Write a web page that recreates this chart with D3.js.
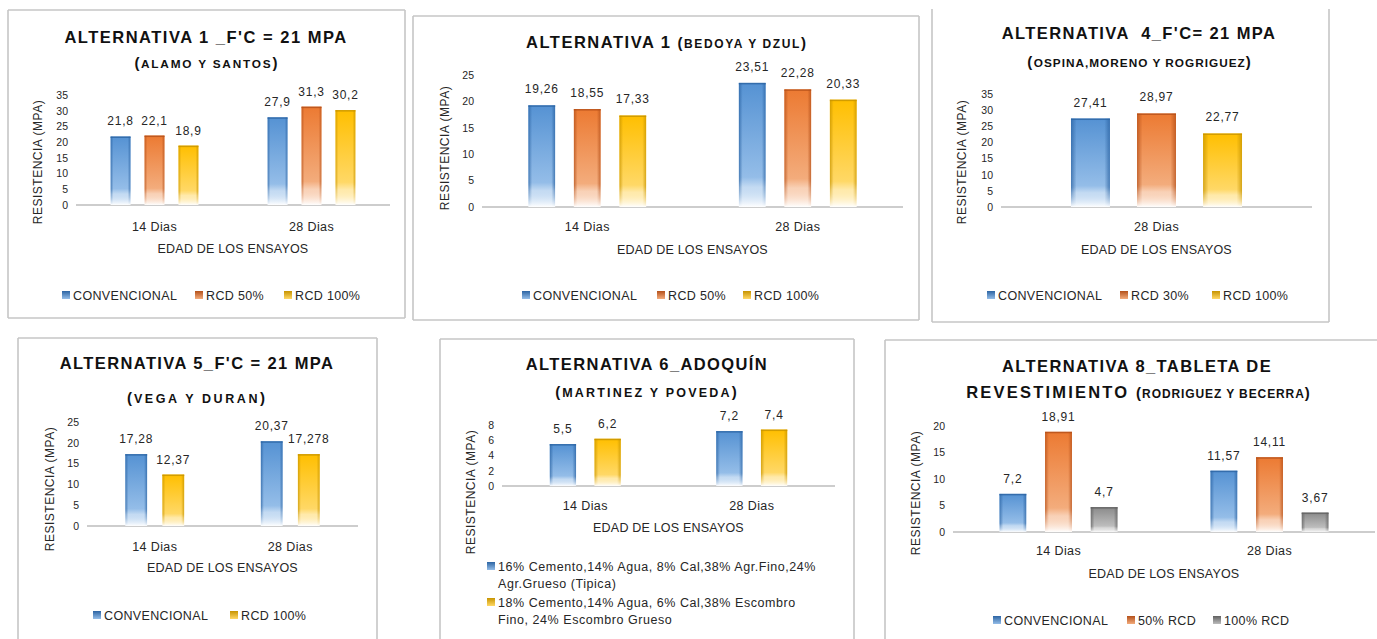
<!DOCTYPE html>
<html>
<head>
<meta charset="utf-8">
<script src="https://cdn.jsdelivr.net/npm/d3@7"></script>
<style>
  html, body { margin: 0; padding: 0; background: #fff; }
  svg { display: block; font-family: "Liberation Sans", Arial, sans-serif; }
  svg text { white-space: pre; }
</style>
</head>
<body>
<svg id="chart" width="1377" height="639"></svg>
<script>
// ---------------- DATA ----------------
const categories = ["14 Dias", "28 Dias"];
const categories28 = ["28 Dias"];

const seriesAlamo = ["CONVENCIONAL", "RCD 50%", "RCD 100%"];
const valuesAlamo = [[21.8, 27.9], [22.1, 31.3], [18.9, 30.2]];
const ticksAlamo = [0, 5, 10, 15, 20, 25, 30, 35];

const seriesBedoya = ["CONVENCIONAL", "RCD 50%", "RCD 100%"];
const valuesBedoya = [[19.26, 23.51], [18.55, 22.28], [17.33, 20.33]];
const ticksBedoya = [0, 5, 10, 15, 20, 25];

const seriesOspina = ["CONVENCIONAL", "RCD 30%", "RCD 100%"];
const valuesOspina = [[27.41], [28.97], [22.77]];
const ticksOspina = [0, 5, 10, 15, 20, 25, 30, 35];

const seriesVega = ["CONVENCIONAL", "RCD 100%"];
const valuesVega = [[17.28, 20.37], [12.37, 17.278]];
const ticksVega = [0, 5, 10, 15, 20, 25];

const seriesMartinez = [
  ["16% Cemento,14% Agua, 8% Cal,38% Agr.Fino,24%", "Agr.Grueso (Tipica)"],
  ["18% Cemento,14% Agua, 6% Cal,38% Escombro", "Fino, 24% Escombro Grueso"]
];
const valuesMartinez = [[5.5, 7.2], [6.2, 7.4]];
const ticksMartinez = [0, 2, 4, 6, 8];

const seriesRodriguez = ["CONVENCIONAL", "50% RCD", "100% RCD"];
const valuesRodriguez = [[7.2, 11.57], [18.91, 14.11], [4.7, 3.67]];
const ticksRodriguez = [0, 5, 10, 15, 20];

const yAxisTitle = "RESISTENCIA (MPA)";
const xAxisTitle = "EDAD DE LOS ENSAYOS";

// ---------------- STYLE ----------------
const palette = {
  blue:   { dark: "#2c64a3", main: "#5592d3", light: "#94bde8" },
  orange: { dark: "#b4501a", main: "#ec7a32", light: "#f3ac7c" },
  yellow: { dark: "#c79400", main: "#ffbf00", light: "#ffd866" },
  gray:   { dark: "#606060", main: "#8a8a8a", light: "#bdbdbd" }
};
const TXT = "#262626";

const svg = d3.select("#chart");
const defs = svg.append("defs");

const mg = defs.append("linearGradient").attr("id", "fadeGrad")
  .attr("x1", 0).attr("y1", 0).attr("x2", 0).attr("y2", 1);
mg.append("stop").attr("offset", "0%").attr("stop-color", "#fff");
mg.append("stop").attr("offset", "78%").attr("stop-color", "#fff");
mg.append("stop").attr("offset", "100%").attr("stop-color", "#000");
defs.append("mask").attr("id", "fadeMask").attr("maskContentUnits", "objectBoundingBox")
  .append("rect").attr("x", 0).attr("y", 0).attr("width", 1).attr("height", 1)
  .attr("fill", "url(#fadeGrad)");

Object.entries(palette).forEach(([k, c]) => {
  const g = defs.append("linearGradient").attr("id", "fill-" + k)
    .attr("x1", 0).attr("y1", 0).attr("x2", 0).attr("y2", 1);
  g.append("stop").attr("offset", "0%").attr("stop-color", c.main);
  g.append("stop").attr("offset", "76%").attr("stop-color", c.light);
  g.append("stop").attr("offset", "84%").attr("stop-color", c.light).attr("stop-opacity", 0.55);
  g.append("stop").attr("offset", "100%").attr("stop-color", "#ffffff").attr("stop-opacity", 1);
  const e = defs.append("linearGradient").attr("id", "edge-" + k)
    .attr("x1", 0).attr("y1", 0).attr("x2", 1).attr("y2", 0);
  e.append("stop").attr("offset", "0%").attr("stop-color", c.dark).attr("stop-opacity", 0.75);
  e.append("stop").attr("offset", "14%").attr("stop-color", c.dark).attr("stop-opacity", 0);
  e.append("stop").attr("offset", "86%").attr("stop-color", c.dark).attr("stop-opacity", 0);
  e.append("stop").attr("offset", "100%").attr("stop-color", c.dark).attr("stop-opacity", 0.75);
  const s = defs.append("linearGradient").attr("id", "sw-" + k)
    .attr("x1", 0).attr("y1", 0).attr("x2", 0).attr("y2", 1);
  s.append("stop").attr("offset", "0%").attr("stop-color", c.dark);
  s.append("stop").attr("offset", "100%").attr("stop-color", c.light);
});

const fmt = v => String(v).replace(".", ",");

function drawPanel(cfg) {
  const g = svg.append("g");
  const [bx0, by0, bx1, by1] = cfg.box;
  const border = g.append("g").attr("stroke", "#c6c6c6").attr("stroke-width", 1.6).attr("fill", "none");
  if (cfg.sides.includes("t")) border.append("line").attr("x1", bx0).attr("y1", by0).attr("x2", bx1).attr("y2", by0);
  if (cfg.sides.includes("b")) border.append("line").attr("x1", bx0).attr("y1", by1).attr("x2", bx1).attr("y2", by1);
  if (cfg.sides.includes("l")) border.append("line").attr("x1", bx0).attr("y1", by0).attr("x2", bx0).attr("y2", by1);
  if (cfg.sides.includes("r")) border.append("line").attr("x1", bx1).attr("y1", by0).attr("x2", bx1).attr("y2", by1);

  cfg.title.forEach(line => {
    const t = g.append("text").attr("x", line.x).attr("y", line.y)
      .attr("text-anchor", "middle").attr("fill", "#111").attr("font-weight", "bold");
    line.parts.forEach(p => {
      t.append("tspan").text(p.text)
        .attr("font-size", p.size).attr("letter-spacing", p.ls);
    });
  });

  const p = cfg.plot;
  const x = d3.scaleBand().domain(cfg.categories).range([p.x0, p.x1]);
  const y = d3.scaleLinear().domain([0, cfg.max]).range([p.yb, p.yt]);

  const yAxis = g.append("g").attr("transform", `translate(${p.x0 - 8},0)`)
    .call(d3.axisLeft(y).tickValues(cfg.ticks).tickSize(0).tickPadding(0).tickFormat(d3.format("d")));
  yAxis.select(".domain").remove();
  yAxis.selectAll("text").attr("font-size", 10.5).attr("fill", TXT)
    .attr("font-family", "'Liberation Sans', Arial, sans-serif");

  g.append("line").attr("x1", p.x0).attr("x2", p.x1).attr("y1", y(0)).attr("y2", y(0))
    .attr("stroke", "#bdbdbd").attr("stroke-width", 1.5);

  const idx = cfg.series.map((_, i) => i);
  cfg.categories.forEach((cat, ci) => {
    const c = x(cat) + x.bandwidth() / 2;
    const gw = x.bandwidth() * cfg.groupFrac;
    const xs = d3.scaleBand().domain(idx).range([c - gw / 2, c + gw / 2]).paddingInner(0.41);
    idx.forEach(si => {
      const v = cfg.values[si][ci];
      const col = cfg.colors[si];
      const bx = xs(si), bw = xs.bandwidth(), by = y(v), bh = y(0) - y(v);
      g.append("rect").attr("x", bx).attr("y", by).attr("width", bw).attr("height", bh)
        .attr("fill", `url(#fill-${col})`);
      g.append("rect").attr("x", bx).attr("y", by).attr("width", bw).attr("height", bh)
        .attr("fill", `url(#edge-${col})`).attr("mask", "url(#fadeMask)");
      g.append("rect").attr("x", bx).attr("y", by).attr("width", bw).attr("height", 1.5)
        .attr("fill", palette[col].dark).attr("opacity", 0.8);
      g.append("text").attr("x", bx + bw / 2).attr("y", by - cfg.labelGap)
        .attr("text-anchor", "middle").attr("font-size", 12).attr("letter-spacing", 0.8)
        .attr("fill", TXT).text(fmt(v));
    });
  });

  const xAxis = g.append("g").attr("transform", `translate(0,${cfg.xLabelY})`)
    .call(d3.axisBottom(x).tickSize(0).tickPadding(0));
  xAxis.select(".domain").remove();
  xAxis.selectAll("text").attr("font-size", 12.5).attr("fill", TXT).attr("dy", 0)
    .attr("letter-spacing", 0.4)
    .attr("font-family", "'Liberation Sans', Arial, sans-serif");

  g.append("text").attr("x", (p.x0 + p.x1) / 2).attr("y", cfg.axisTitleY)
    .attr("text-anchor", "middle").attr("font-size", 12.5).attr("letter-spacing", 0.2)
    .attr("fill", TXT).text(xAxisTitle);
  g.append("text").attr("transform", `translate(${cfg.yTitle[0]},${cfg.yTitle[1]}) rotate(-90)`)
    .attr("text-anchor", "middle").attr("dy", "0.35em").attr("font-size", 12)
    .attr("letter-spacing", 0.5).attr("fill", TXT).text(yAxisTitle);

  if (cfg.legend.type === "row") {
    cfg.series.forEach((s, i) => {
      const lx = cfg.legend.xs[i], ly = cfg.legend.y;
      g.append("rect").attr("x", lx).attr("y", ly - 4).attr("width", 8).attr("height", 8)
        .attr("fill", `url(#sw-${cfg.colors[i]})`);
      g.append("text").attr("x", lx + 11).attr("y", ly).attr("dy", "0.36em")
        .attr("font-size", 12.5).attr("letter-spacing", 0.35).attr("fill", TXT).text(s);
    });
  } else {
    cfg.series.forEach((lines, i) => {
      const lx = cfg.legend.x;
      const ly = cfg.legend.ys[i];
      g.append("rect").attr("x", lx).attr("y", ly - 4).attr("width", 8).attr("height", 8)
        .attr("fill", `url(#sw-${cfg.colors[i]})`);
      const t = g.append("text").attr("x", lx + 11).attr("y", ly)
        .attr("font-size", 12.5).attr("letter-spacing", 0.55).attr("fill", TXT);
      lines.forEach((ln, k) => {
        t.append("tspan").attr("x", lx + 11).attr("dy", k === 0 ? "0.36em" : 17.5).text(ln);
      });
    });
  }
}

const BIG = 16.5, SMALL = 11.8;

drawPanel({
  box: [8, 10, 405, 318], sides: "tblr",
  title: [
    { x: 206, y: 43, parts: [{ text: "ALTERNATIVA 1 _F'C = 21 MPA", size: BIG, ls: 1.5 }] },
    { x: 206, y: 68, parts: [{ text: "(", size: 15, ls: 1.5 }, { text: "ALAMO Y SANTOS", size: SMALL, ls: 1.8 }, { text: ")", size: 15, ls: 0 }] }
  ],
  plot: { x0: 76, x1: 390, yb: 205, yt: 95 }, max: 35, ticks: ticksAlamo,
  categories: categories, series: seriesAlamo, values: valuesAlamo,
  colors: ["blue", "orange", "yellow"], groupFrac: 0.56, labelGap: 11,
  xLabelY: 231, axisTitleY: 253, yTitle: [38, 162],
  legend: { type: "row", y: 295, xs: [62, 195, 284] }
});

drawPanel({
  box: [413, 16, 919, 320], sides: "tblr",
  title: [
    { x: 666, y: 48, parts: [{ text: "ALTERNATIVA 1 ", size: BIG, ls: 1.5 }, { text: "(", size: 15, ls: 1.5 }, { text: "BEDOYA Y DZUL", size: 12, ls: 1.6 }, { text: ")", size: 15, ls: 0 }] }
  ],
  plot: { x0: 482, x1: 903, yb: 207, yt: 75 }, max: 25, ticks: ticksBedoya,
  categories: categories, series: seriesBedoya, values: valuesBedoya,
  colors: ["blue", "orange", "yellow"], groupFrac: 0.56, labelGap: 12,
  xLabelY: 231, axisTitleY: 254, yTitle: [445, 148],
  legend: { type: "row", y: 295, xs: [522, 657, 743] }
});

drawPanel({
  box: [932, 9, 1329, 322], sides: "blr",
  title: [
    { x: 1139, y: 39, parts: [{ text: "ALTERNATIVA  4_F'C= 21 MPA", size: BIG, ls: 1.4 }] },
    { x: 1139, y: 67, parts: [{ text: "(", size: 15, ls: 1.5 }, { text: "OSPINA,MORENO Y ROGRIGUEZ", size: SMALL, ls: 1.0 }, { text: ")", size: 15, ls: 0 }] }
  ],
  plot: { x0: 1001, x1: 1312, yb: 207, yt: 94 }, max: 35, ticks: ticksOspina,
  categories: categories28, series: seriesOspina, values: valuesOspina,
  colors: ["blue", "orange", "yellow"], groupFrac: 0.55, labelGap: 12,
  xLabelY: 231, axisTitleY: 254, yTitle: [962, 162],
  legend: { type: "row", y: 295, xs: [987, 1120, 1212] }
});

drawPanel({
  box: [18, 338, 377, 660], sides: "tlr",
  title: [
    { x: 197, y: 369, parts: [{ text: "ALTERNATIVA 5_F'C = 21 MPA", size: BIG, ls: 1.4 }] },
    { x: 196, y: 403, parts: [{ text: "(", size: 15, ls: 2 }, { text: "VEGA Y DURAN", size: 12.5, ls: 2.6 }, { text: ")", size: 15, ls: 0 }] }
  ],
  plot: { x0: 87, x1: 358, yb: 526, yt: 422 }, max: 25, ticks: ticksVega,
  categories: categories, series: seriesVega, values: valuesVega,
  colors: ["blue", "yellow"], groupFrac: 0.435, labelGap: 11,
  xLabelY: 551, axisTitleY: 572, yTitle: [50, 489],
  legend: { type: "row", y: 615, xs: [93, 230] }
});

drawPanel({
  box: [440, 339, 854, 660], sides: "tlr",
  title: [
    { x: 647, y: 370, parts: [{ text: "ALTERNATIVA 6_ADOQUÍN", size: BIG, ls: 1.4 }] },
    { x: 646, y: 397, parts: [{ text: "(", size: 15, ls: 2 }, { text: "MARTINEZ Y POVEDA", size: 12.5, ls: 2.2 }, { text: ")", size: 15, ls: 0 }] }
  ],
  plot: { x0: 502, x1: 835, yb: 486, yt: 425 }, max: 8, ticks: ticksMartinez,
  categories: categories, series: seriesMartinez, values: valuesMartinez,
  colors: ["blue", "yellow"], groupFrac: 0.427, labelGap: 11,
  xLabelY: 510, axisTitleY: 532, yTitle: [471, 492],
  legend: { type: "col", x: 487, ys: [566, 602] }
});

drawPanel({
  box: [885, 340, 1400, 660], sides: "tl",
  title: [
    { x: 1137, y: 372, parts: [{ text: "ALTERNATIVA 8_TABLETA DE", size: BIG, ls: 1.4 }] },
    { x: 1138, y: 398, parts: [{ text: "REVESTIMIENTO ", size: BIG, ls: 2.2 }, { text: "(", size: 15, ls: 1 }, { text: "RODRIGUEZ Y BECERRA", size: 12, ls: 0.9 }, { text: ")", size: 15, ls: 0 }] }
  ],
  plot: { x0: 953, x1: 1375, yb: 532, yt: 426 }, max: 20, ticks: ticksRodriguez,
  categories: categories, series: seriesRodriguez, values: valuesRodriguez,
  colors: ["blue", "orange", "gray"], groupFrac: 0.56, labelGap: 11,
  xLabelY: 555, axisTitleY: 578, yTitle: [916, 493],
  legend: { type: "row", y: 620, xs: [993, 1127, 1213] }
});
</script>
</body>
</html>
